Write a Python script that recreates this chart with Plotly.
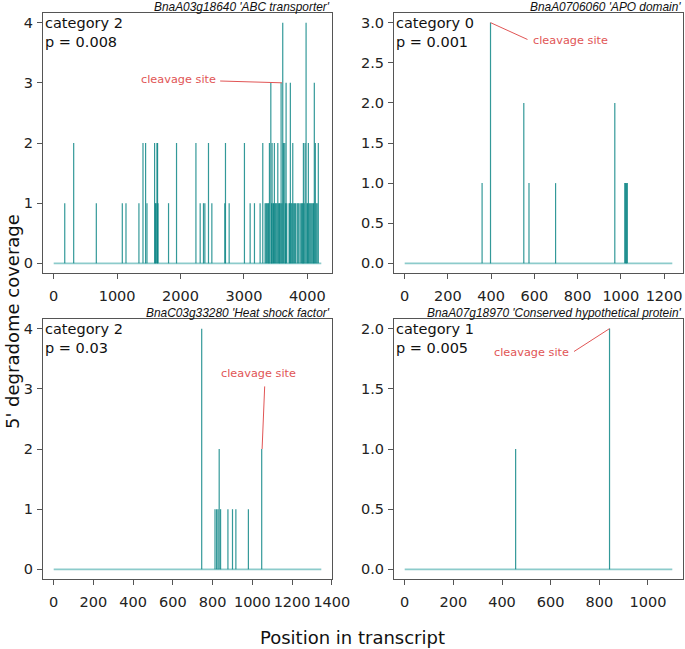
import plotly.graph_objects as go

# ---------------- data ----------------
titles = ["BnaA03g18640 'ABC transporter'", "BnaA0706060 'APO domain'",
          "BnaC03g33280 'Heat shock factor'", "BnaA07g18970 'Conserved hypothetical protein'"]
categories = ["category 2", "category 0", "category 2", "category 1"]
pvalues = ["p = 0.008", "p = 0.001", "p = 0.03", "p = 0.005"]
lengths = [4220, 1238, 1347, 1100]

p1_pos = [174, 315, 672, 1082, 1140, 1344, 1408, 1449, 1471, 1591, 1605, 1615, 1628, 1638, 1645,
          1811, 1937, 2243, 2310, 2362, 2384, 2441, 2494, 2698, 2709, 2767, 3008, 3098, 3166, 3255,
          3297, 3334, 3348, 3360, 3375, 3388, 3402, 3424, 3436, 3444, 3458, 3468, 3480, 3494, 3506,
          3520, 3534, 3548, 3560, 3572, 3586, 3598, 3612, 3622, 3644, 3655, 3665, 3675, 3712, 3722,
          3732, 3745, 3758, 3770, 3785, 3800, 3815, 3840, 3855, 3870, 3896, 3910, 3925, 3938, 3950,
          3964, 3980, 3995, 4005, 4016, 4030, 4045, 4060, 4075, 4090, 4100, 4110, 4126, 4140, 4155,
          4173]
p1_cov = [1, 2, 1, 1, 1, 1, 2, 2, 1, 2, 1, 1, 2, 2, 1,
          1, 2, 2, 1, 1, 1, 2, 1, 1, 2, 1, 2, 1, 1, 1,
          2, 1, 1, 1, 1, 1, 2, 3, 1, 2, 1, 1, 2, 1, 1,
          1, 2, 1, 1, 1, 3, 1, 4, 2, 2, 1, 3, 1, 1, 1,
          3, 1, 1, 2, 1, 1, 1, 1, 1, 1, 1, 1, 1, 2, 1,
          2, 4, 1, 1, 2, 1, 1, 1, 1, 1, 1, 3, 2, 1, 1,
          2]
p2_pos = [358, 397, 551, 575, 698, 972, 1018, 1022, 1026, 1030]
p2_cov = [1, 3, 2, 1, 1, 2, 1, 1, 1, 1]
p3_pos = [745, 812, 820, 827, 833, 840, 877, 900, 917, 980, 1047]
p3_cov = [4, 1, 1, 1, 2, 1, 1, 1, 1, 1, 2]
p4_pos = [456, 842]
p4_cov = [1, 2]

x_ticks = [[0, 1000, 2000, 3000, 4000], [0, 200, 400, 600, 800, 1000, 1200],
           [0, 200, 400, 600, 800, 1000, 1200, 1400], [0, 200, 400, 600, 800, 1000]]
y_ticks = [[0, 1, 2, 3, 4], [0, 0.5, 1, 1.5, 2, 2.5, 3], [0, 1, 2, 3, 4], [0, 0.5, 1, 1.5, 2]]
y_ticklabels = [["0", "1", "2", "3", "4"], ["0.0", "0.5", "1.0", "1.5", "2.0", "2.5", "3.0"],
                ["0", "1", "2", "3", "4"], ["0.0", "0.5", "1.0", "1.5", "2.0"]]
y_max = [4, 3, 4, 2]

# cleavage site labels: (peak x, peak y, line end x, line end y, text x, text y, anchor)
cleavage = [
    (3600, 3.0, 2625, 3.03, 2590, 3.06, "right"),
    (397, 3.0, 568, 2.79, 586, 2.78, "left"),
    (1049, 2.0, 1062, 3.04, 1032, 3.25, "center"),
    (842, 2.0, 696, 1.81, 685, 1.80, "right"),
]

# ---------------- figure ----------------
W, H = 685, 649
boxes = [(43, 332, 13, 273), (394, 683, 13, 273), (43, 332, 319, 579), (394, 683, 319, 579)]
data = [(p1_pos, p1_cov), (p2_pos, p2_cov), (p3_pos, p3_cov), (p4_pos, p4_cov)]

fig = go.Figure()
FONT = "DejaVu Sans"
teal = "rgba(0,128,128,0.8)"
base_col = "rgba(0,139,139,0.45)"
red = "rgb(225,85,85)"

annotations = []
for i in range(4):
    xa = "x" if i == 0 else f"x{i+1}"
    ya = "y" if i == 0 else f"y{i+1}"
    pos, cov = data[i]
    L = lengths[i]
    # baseline
    fig.add_trace(go.Scatter(x=[0, L], y=[0, 0], mode="lines", xaxis=xa, yaxis=ya,
                             line=dict(color=base_col, width=1.6), showlegend=False, hoverinfo="skip"))
    xs, ys = [], []
    for p, c in zip(pos, cov):
        xs += [p, p, None]
        ys += [0, c, None]
    fig.add_trace(go.Scatter(x=xs, y=ys, mode="lines", xaxis=xa, yaxis=ya,
                             line=dict(color=teal, width=1.2), showlegend=False, hoverinfo="skip"))
    # cleavage line
    px, py, lx, ly, tx, ty, anc = cleavage[i]
    fig.add_trace(go.Scatter(x=[px, lx], y=[py, ly], mode="lines", xaxis=xa, yaxis=ya,
                             line=dict(color=red, width=1), showlegend=False, hoverinfo="skip"))
    annotations.append(dict(x=tx, y=ty, xref=xa, yref=ya, text="cleavage site", showarrow=False,
                            xanchor=anc, yanchor="middle", font=dict(family=FONT, size=11.3, color=red)))

    x0, x1, y0, y1 = boxes[i]
    pad_x = 0.04 * L
    pad_y = 0.04 * y_max[i]
    axx = dict(domain=[x0 / W, x1 / W], range=[-pad_x, L + pad_x], anchor=ya, automargin=False,
               tickangle=0,
               tickvals=x_ticks[i], ticks="outside", ticklen=5, tickcolor="#555", tickwidth=1,
               showline=True, mirror=True, linecolor="#555", linewidth=1, showgrid=False, zeroline=False,
               tickfont=dict(family=FONT, size=14.5, color="#222"), ticklabelstandoff=5)
    axy = dict(domain=[1 - y1 / H, 1 - y0 / H], range=[-pad_y, y_max[i] + pad_y], anchor=xa,
               automargin=False,
               tickvals=y_ticks[i], ticktext=y_ticklabels[i], ticks="outside", ticklen=5, tickcolor="#555",
               tickwidth=1, showline=True, mirror=True, linecolor="#555", linewidth=1, showgrid=False,
               zeroline=False, tickfont=dict(family=FONT, size=14.5, color="#222"), ticklabelstandoff=1)
    key = "" if i == 0 else str(i + 1)
    fig.layout["xaxis" + key] = axx
    fig.layout["yaxis" + key] = axy

    # title (italic, right aligned above the box)
    annotations.append(dict(x=1, y=1, xref=f"{xa} domain", yref=f"{ya} domain", text=f"<i>{titles[i]}</i>",
                            showarrow=False, xanchor="right", yanchor="bottom", yshift=-2.5,
                            font=dict(family="Liberation Sans", size=11.9, color="#111")))
    # category / p-value
    annotations.append(dict(x=0, y=1, xref=f"{xa} domain", yref=f"{ya} domain",
                            text=f"{categories[i]}<br>{pvalues[i]}", showarrow=False, xanchor="left",
                            yanchor="top", align="left", xshift=0, yshift=0,
                            font=dict(family=FONT, size=14.5, color="#111")))

annotations.append(dict(x=12 / W, y=1 - 322 / H, xref="paper", yref="paper", text="5' degradome coverage",
                        textangle=-90, showarrow=False, xanchor="center", yanchor="middle",
                        font=dict(family=FONT, size=18, color="#111")))
annotations.append(dict(x=353 / W, y=1 - 637 / H, xref="paper", yref="paper", text="Position in transcript",
                        showarrow=False, xanchor="center", yanchor="middle",
                        font=dict(family=FONT, size=18, color="#111")))

fig.update_layout(width=W, height=H, margin=dict(l=0, r=0, t=0, b=0, autoexpand=False),
                  plot_bgcolor="white", paper_bgcolor="white", annotations=annotations, showlegend=False)
fig.write_html("out.html", config={"displayModeBar": False},
               post_script="document.body.style.margin='0';document.body.style.padding='0';"
                           "document.body.style.overflow='hidden';")
